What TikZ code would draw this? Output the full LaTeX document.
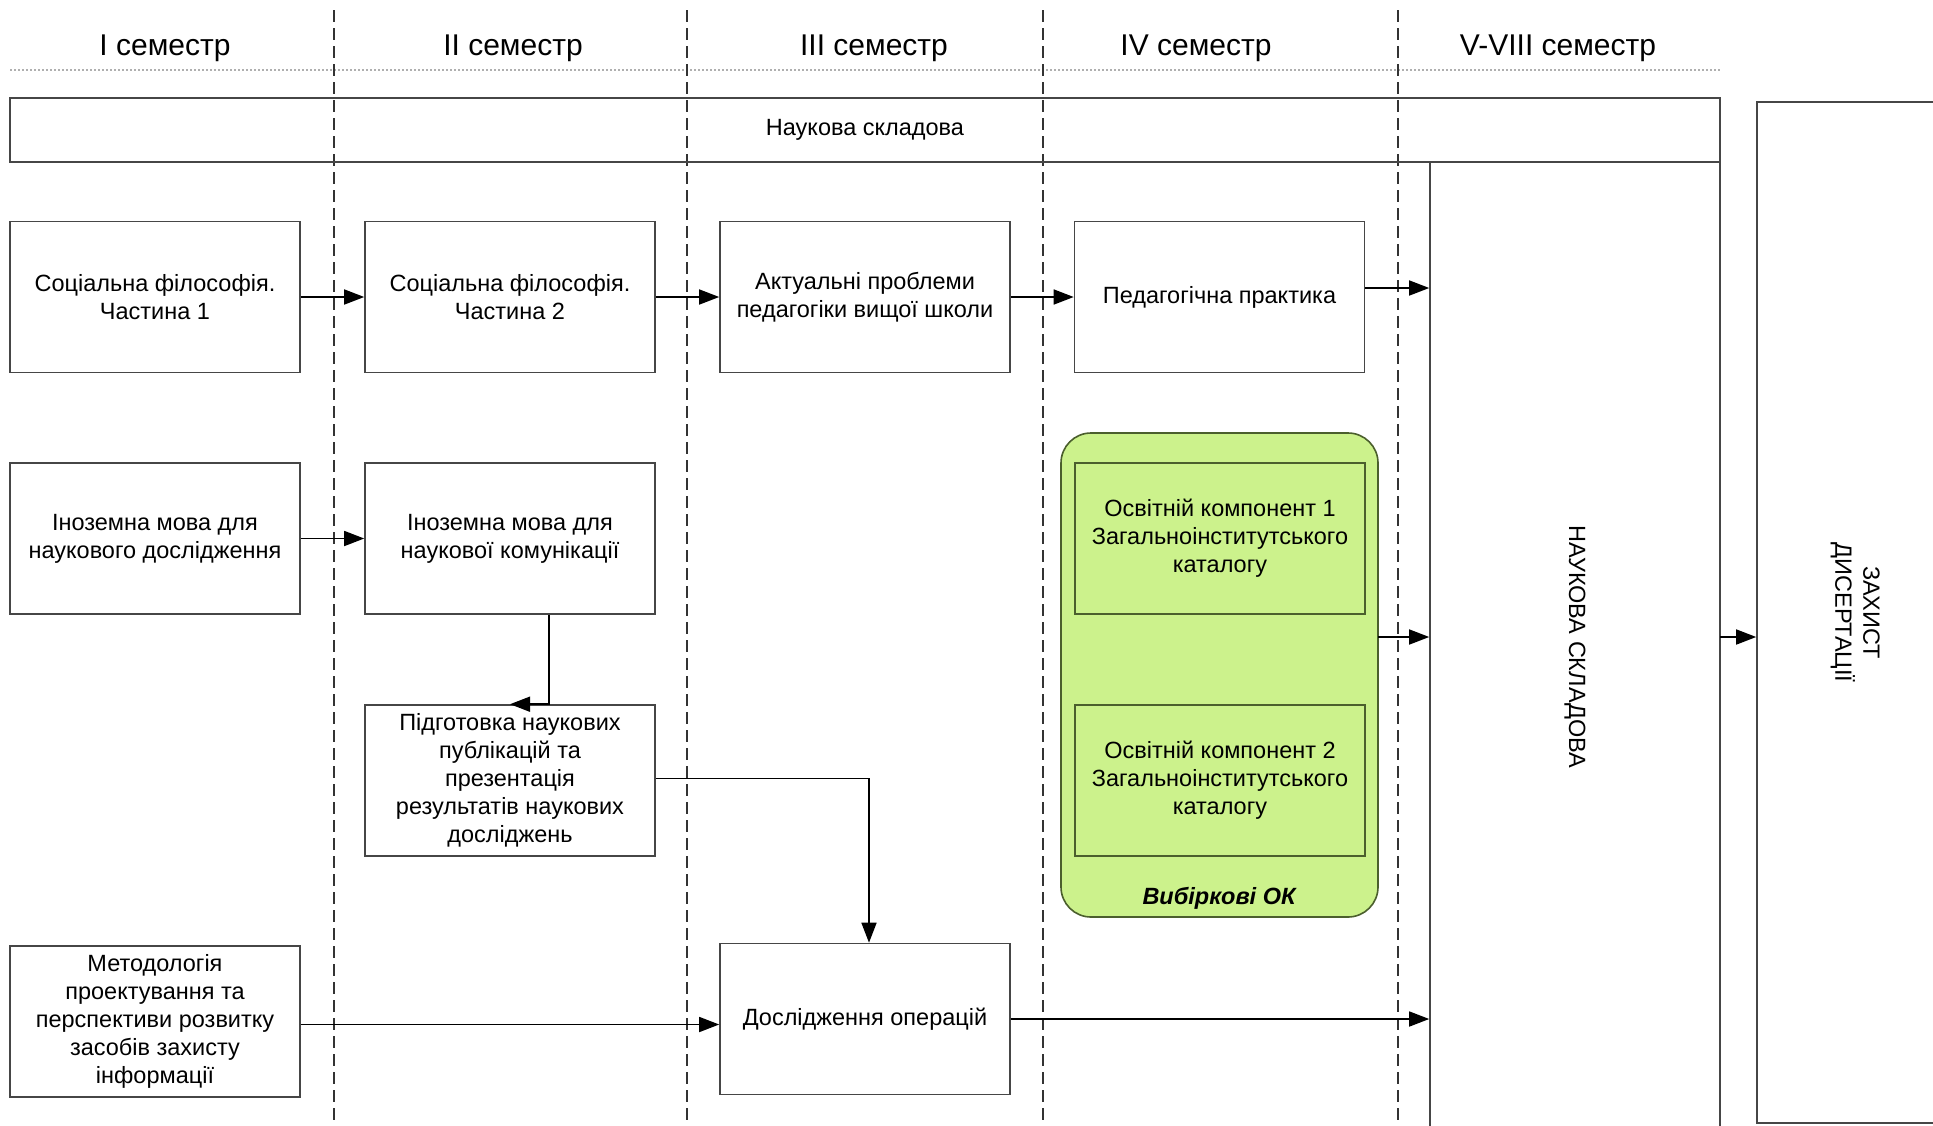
\documentclass[tikz,border=0pt]{standalone}
\usepackage{fontspec}
\setmainfont{Liberation Sans}
\usetikzlibrary{arrows.meta}
\definecolor{boxline}{RGB}{70,70,70}
\definecolor{okfill}{RGB}{204,242,140}
\definecolor{okline}{RGB}{75,95,45}
\definecolor{dotgray}{RGB}{175,175,175}
\begin{document}
\begin{tikzpicture}[x=1pt,y=-1pt,
  txt/.style={font=\fontsize{23.5}{28}\selectfont},
  hdr/.style={font=\fontsize{30}{34}\selectfont, inner sep=0pt},
  box/.style={draw=boxline, line width=1.6pt, minimum width=290pt, minimum height=151pt, align=center, txt, inner sep=0pt},
  okbox/.style={box, draw=okline, fill=okfill},
  bigbox/.style={draw=boxline, line width=1.6pt, txt, inner sep=0pt, align=center},
  arr/.style={line width=1.6pt, black, -{Triangle[length=20pt,width=15pt]}},
  sem/.style={line width=1.6pt, draw=black!80, dash pattern=on 12pt off 6pt}
]
\useasboundingbox (0,0) rectangle (1933,1125);
\fill[white] (0,0) rectangle (1933,1125);
\clip (0,0) rectangle (1933,1125);

% header
\node[hdr] (h1) at (165,48) {I семестр};
\node[hdr] (h2) at (513,48) {II семестр};
\node[hdr] (h3) at (874,48) {III семестр};
\node[hdr] (h4) at (1196,48) {IV семестр};
\node[hdr] (h5) at (1558,48) {V-VIII семестр};
\draw[dotgray, line width=1.2pt, dash pattern=on 2pt off 2pt] (10,70) -- (1720,70);

% semester separators
\draw[sem] (334,10) -- (334,1125);
\draw[sem] (687,10) -- (687,1125);
\draw[sem] (1043,10) -- (1043,1125);
\draw[sem] (1398,10) -- (1398,1125);

% big boxes
\node[bigbox, minimum width=1710pt, minimum height=64pt] (nauk) at (865,130) {Наукова складова};
\node[bigbox, minimum width=290pt, minimum height=970pt] (naukbig) at (1575,647)
  {\rotatebox{-90}{НАУКОВА СКЛАДОВА}};
\node[bigbox, minimum width=196pt, minimum height=1021pt] (zah) at (1855,612.5)
  {\rotatebox{-90}{\begin{tabular}{@{}c@{}}ЗАХИСТ\\ДИСЕРТАЦІЇ\end{tabular}}};

% row 1
\node[box] (sf1) at (155,297) {Соціальна філософія.\\Частина 1};
\node[box] (sf2) at (510,297) {Соціальна філософія.\\Частина 2};
\node[box] (akt) at (865,297) {Актуальні проблеми\\педагогіки вищої школи};
\node[box] (ped) at (1219.5,297) {Педагогічна практика};

% row 2
\node[box] (iz1) at (155,538.5) {Іноземна мова для\\наукового дослідження};
\node[box] (iz2) at (510,538.5) {Іноземна мова для\\наукової комунікації};
\node[box] (pidg) at (510,780.5) {Підготовка наукових\\публікацій та\\презентація\\результатів наукових\\досліджень};

% elective group
\node[draw=okline, fill=okfill, line width=1.6pt, rounded corners=30pt, minimum width=317pt, minimum height=484pt, inner sep=0pt] (green) at (1219.5,675) {};
\node[okbox] (ok1) at (1220,538.5) {Освітній компонент 1\\Загальноінститутського\\каталогу};
\node[okbox] (ok2) at (1220,780.5) {Освітній компонент 2\\Загальноінститутського\\каталогу};
\node[font=\fontsize{23.5}{28}\selectfont\bfseries\itshape, inner sep=0pt] (vyb) at (1219,898) {Вибіркові ОК};

% row 4
\node[box] (met) at (155,1021.5) {Методологія\\проектування та\\перспективи розвитку\\засобів захисту\\інформації};
\node[box] (dosl) at (865,1019) {Дослідження операцій};

% connectors
\draw[arr] (sf1.east) -- (sf2.west);
\draw[arr] (sf2.east) -- (akt.west);
\draw[arr] (akt.east) -- (ped.west);
\coordinate (p1) at ([yshift=9pt]ped.east);
\draw[arr] (p1) -- (p1 -| naukbig.west);
\draw[arr] (iz1.east) -- (iz2.west);
\coordinate (c1) at ([xshift=39pt]iz2.south);
\draw[arr] (c1) -- (c1 |- pidg.north) -- (pidg.north);
\coordinate (c2) at ([xshift=4pt]dosl.north);
\draw[arr] ([yshift=2pt]pidg.east) -| (c2);
\coordinate (c3) at ([yshift=-3pt]met.east);
\draw[arr] (c3) -- (c3 -| dosl.west);
\draw[arr] (dosl.east) -- (dosl.east -| naukbig.west);
\coordinate (c4) at (1378,637);
\draw[arr] (c4) -- (c4 -| naukbig.west);
\coordinate (c5) at (1720,637);
\draw[arr] (c5) -- (c5 -| zah.west);
\end{tikzpicture}
\end{document}
